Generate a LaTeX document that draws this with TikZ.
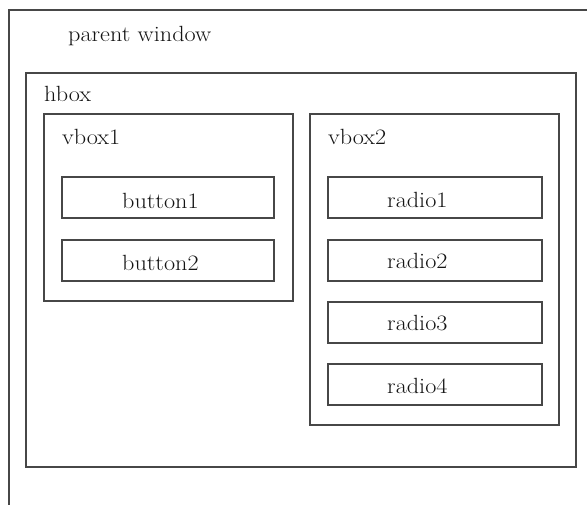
\documentclass[tikz,border=0pt]{standalone}
\usepackage{graphicx}
\usetikzlibrary{positioning}
% labels are set slightly wide
\newcommand{\widetext}[1]{\scalebox{1.1}[1]{#1}}
\begin{document}
\begin{tikzpicture}[x=1pt,y=-1pt,
  frame/.style={draw=black!72,line width=1.7pt,rectangle,inner sep=0pt,anchor=north west},
  lbl/.style={inner sep=0pt,anchor=base west,text=black!92,font=\fontsize{22}{25}\selectfont}]
\useasboundingbox (0,0) rectangle (587,504);
\clip (0,0) rectangle (587,504);
\fill[white] (0,0) rectangle (587,504);

% containers
\node[frame,minimum width=620pt,minimum height=540pt] (win) at (8,9) {};
\node[frame,minimum width=550pt,minimum height=394pt] (hbox) at (25,72) {};
\node[frame,minimum width=249pt,minimum height=187pt] (vbox1) at (43,113) {};
\node[frame,minimum width=249pt,minimum height=311pt] (vbox2) at (309,113) {};

% widgets in vbox1
\node[frame,minimum width=212pt,minimum height=41pt] (button1) at (61,176) {};
\node[frame,minimum width=212pt,minimum height=41pt] (button2) at (61,239) {};

% widgets in vbox2
\node[frame,minimum width=214pt,minimum height=41pt] (radio1) at (327,176) {};
\node[frame,minimum width=214pt,minimum height=41pt] (radio2) at (327,239) {};
\node[frame,minimum width=214pt,minimum height=41pt] (radio3) at (327,301) {};
\node[frame,minimum width=214pt,minimum height=41pt] (radio4) at (327,363) {};

% labels
\node[lbl] (winlbl) at (68,41) {\widetext{parent window}};
\node[lbl] (hboxlbl) at (44,101) {\widetext{hbox}};
\node[lbl] (vbox1lbl) at (62,144) {\widetext{vbox1}};
\node[lbl] (vbox2lbl) at (328,144) {\widetext{vbox2}};
\node[lbl] (b1lbl) at (122,208) {\widetext{button1}};
\node[lbl] (b2lbl) at (122,270) {\widetext{button2}};
\node[lbl] (r1lbl) at (387,207) {\widetext{radio1}};
\node[lbl] (r2lbl) at (387,268) {\widetext{radio2}};
\node[lbl] (r3lbl) at (387,330) {\widetext{radio3}};
\node[lbl] (r4lbl) at (387,393) {\widetext{radio4}};
\end{tikzpicture}
\end{document}
